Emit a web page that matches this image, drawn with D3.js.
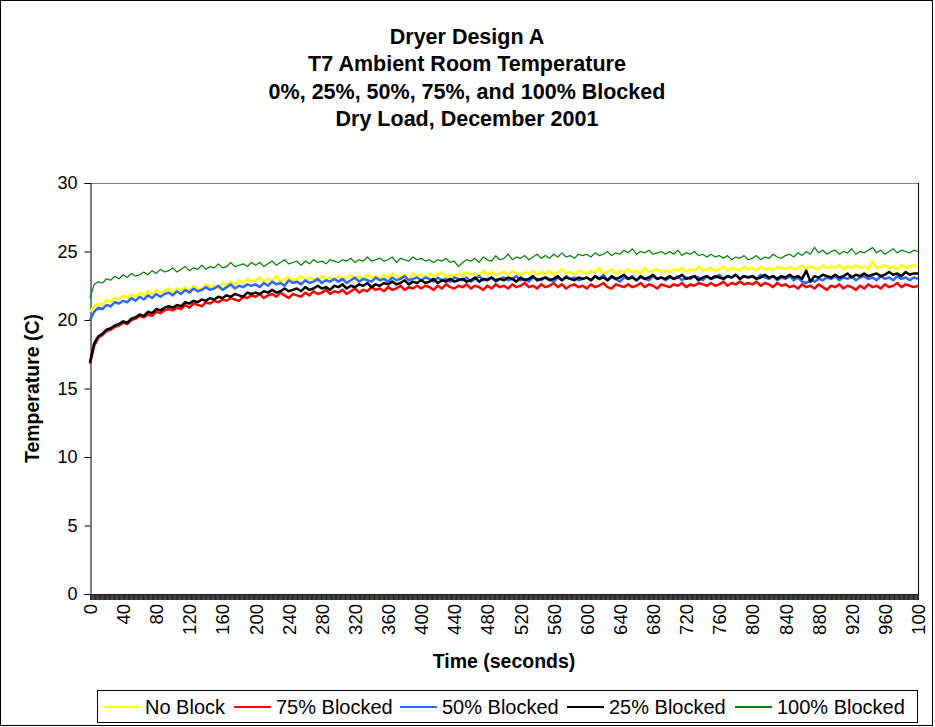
<html>
<head>
<script src="https://cdnjs.cloudflare.com/ajax/libs/d3/7.8.5/d3.min.js"></script>
<style>
  body { margin: 0; background: #fff; }
  text { font-family: "Liberation Sans", Arial, sans-serif; fill: #000; }
</style>
</head>
<body>
<svg id="chart"></svg>
<script>

    var width = 935,
        height = 727;

    // sample times (seconds), one reading every 5 s
    var times = d3.range(0, 1001, 5);

    var titleLines = ["Dryer Design A", "T7 Ambient Room Temperature",
        "0%, 25%, 50%, 75%, and 100% Blocked", "Dry Load, December 2001"];

    var yTicks = [0, 5, 10, 15, 20, 25, 30];
    var xLabelTimes = d3.range(0, 1001, 40);
    var xTickLabels = ["0","40","80","120","160","200","240","280","320","360","400","440","480",
        "520","560","600","640","680","720","760","800","840","880","920","960","100"];

    var seriesNames = ["No Block", "75% Blocked", "50% Blocked", "25% Blocked", "100% Blocked"];
    var seriesColors = ["#ffff00", "#ff0000", "#3366ff", "#000000", "#008000"];
    var seriesWidths = [2.5, 2.5, 2.5, 2.5, 1.2];

    var noBlock = [
        20.6,21.0,21.2,21.1,21.5,21.3,21.6,21.5,21.8,21.6, 21.9,21.7,22.0,21.8,22.1,21.9,22.2,22.0,22.1,22.3,
        22.0,22.3,22.2,22.4,22.1,22.5,22.3,22.2,22.6,22.4, 22.5,22.3,22.7,22.5,22.8,22.6,22.9,22.7,23.0,22.8,
        22.9,23.1,22.8,23.0,22.9,23.2,22.8,23.0,23.1,22.9, 23.0,23.2,22.9,23.1,23.0,22.8,23.2,23.0,23.1,22.9,
        23.2,23.0,23.1,23.3,22.9,23.2,23.0,23.3,23.1,23.2, 23.0,23.3,23.1,23.4,23.2,23.1,23.3,23.0,23.4,23.2,
        23.3,23.1,23.4,23.2,23.3,23.5,23.1,23.3,23.2,23.4, 23.2,23.5,23.3,23.4,23.2,23.6,23.3,23.5,23.3,23.4,
        23.5,23.3,23.6,23.4,23.3,23.5,23.4,23.6,23.3,23.5, 23.4,23.6,23.3,23.5,23.7,23.4,23.5,23.3,23.6,23.5,
        23.4,23.6,23.5,23.8,23.4,23.5,23.7,23.4,23.6,23.5, 23.7,23.5,23.6,23.4,23.8,23.5,23.6,23.7,23.5,23.6,
        23.5,23.7,23.6,23.8,23.5,23.7,23.6,23.9,23.6,23.7, 23.8,23.6,23.7,23.9,23.6,23.8,23.7,23.6,23.9,23.7,
        23.8,23.6,23.9,23.7,23.8,23.6,23.9,23.8,23.7,23.9, 23.7,23.8,24.0,23.7,23.9,23.8,23.7,24.0,23.8,23.9,
        23.8,24.0,23.7,23.9,23.8,24.0,23.8,23.9,23.7,24.3, 23.8,23.9,24.0,23.8,23.9,23.7,24.0,23.8,23.9,24.0,
        23.9];

    var blocked75 = [
        16.8,18.1,18.7,18.9,19.2,19.3,19.5,19.6,19.8,19.7, 20.0,20.1,20.3,20.2,20.4,20.3,20.6,20.5,20.7,20.8,
        20.7,20.9,20.8,21.1,20.9,21.2,21.1,21.0,21.3,21.2, 21.4,21.3,21.5,21.4,21.6,21.5,21.4,21.7,21.6,21.8,
        21.7,21.9,21.6,21.8,21.9,21.7,22.0,21.8,21.6,21.9, 21.8,21.7,22.0,21.8,22.1,21.9,22.0,22.2,21.9,22.1,
        22.0,22.2,21.9,22.1,22.3,22.0,22.2,22.1,22.4,22.2, 22.3,22.1,22.4,22.2,22.3,22.5,22.2,22.4,22.3,22.5,
        22.3,22.5,22.4,22.2,22.5,22.3,22.6,22.4,22.3,22.5, 22.4,22.6,22.3,22.5,22.4,22.2,22.5,22.3,22.6,22.4,
        22.5,22.3,22.6,22.4,22.5,22.7,22.4,22.5,22.3,22.6, 22.4,22.5,22.7,22.4,22.6,22.3,22.5,22.6,22.4,22.5,
        22.3,22.6,22.4,22.5,22.7,22.4,22.3,22.6,22.5,22.4, 22.6,22.4,22.5,22.7,22.4,22.6,22.5,22.3,22.6,22.5,
        22.4,22.6,22.5,22.7,22.4,22.6,22.5,22.7,22.6,22.5, 22.7,22.5,22.6,22.8,22.5,22.7,22.6,22.8,22.6,22.7,
        22.6,22.8,22.5,22.7,22.6,22.4,22.7,22.5,22.6,22.4, 22.5,22.3,22.6,22.4,22.5,22.3,22.6,22.4,22.2,22.5,
        22.4,22.6,22.3,22.5,22.4,22.2,22.5,22.3,22.6,22.4, 22.5,22.3,22.6,22.4,22.5,22.7,22.4,22.6,22.5,22.4,
        22.5];

    var blocked50 = [
        20.0,20.6,20.9,20.8,21.1,21.0,21.3,21.2,21.4,21.3, 21.6,21.4,21.7,21.5,21.8,21.6,21.9,21.7,21.9,22.0,
        21.8,22.1,21.9,22.2,22.0,22.3,22.1,22.2,22.4,22.2, 22.3,22.5,22.2,22.4,22.6,22.3,22.5,22.4,22.6,22.5,
        22.6,22.4,22.7,22.5,22.8,22.6,22.7,22.5,22.9,22.7, 22.8,22.6,22.9,22.7,22.8,23.0,22.7,22.9,22.8,23.0,
        22.8,23.0,22.7,22.9,23.1,22.8,23.0,22.9,22.8,23.1, 22.9,23.0,22.8,23.1,22.9,23.0,23.2,22.9,23.0,23.1,
        22.9,23.1,23.0,22.8,23.1,22.9,23.0,22.8,23.1,23.0, 22.9,23.1,22.8,23.0,23.2,22.9,23.0,23.1,22.8,23.0,
        23.1,22.9,23.0,23.2,22.9,23.0,22.8,23.1,23.0,22.9, 23.1,23.0,22.8,23.1,22.9,23.2,23.0,23.1,22.9,23.0,
        23.1,22.9,23.2,23.0,23.3,22.9,23.1,23.0,22.8,23.1, 23.0,23.2,22.9,23.1,23.0,22.9,23.2,23.0,23.1,22.9,
        23.1,23.0,23.2,22.9,23.1,23.0,23.2,23.1,22.9,23.2, 23.0,23.1,23.3,23.0,23.2,23.1,23.3,23.0,23.2,23.1,
        23.2,23.0,23.3,23.1,23.0,23.2,22.9,23.1,23.0,23.2, 22.9,23.1,22.8,22.7,22.9,22.8,23.0,22.9,23.1,23.0,
        23.2,22.9,23.1,23.0,23.2,22.9,23.1,23.2,23.0,23.1, 22.9,23.2,23.0,23.1,22.9,23.2,23.0,23.1,22.9,23.1,
        23.0];

    var blocked25 = [
        16.9,18.3,18.8,19.0,19.3,19.4,19.6,19.7,19.9,19.8, 20.1,20.2,20.4,20.3,20.6,20.5,20.8,20.7,20.9,21.0,
        20.9,21.1,21.0,21.3,21.2,21.4,21.3,21.5,21.4,21.6, 21.5,21.7,21.6,21.8,21.7,21.9,21.8,21.7,22.0,21.9,
        22.0,21.9,22.1,22.0,22.2,22.0,22.1,22.3,22.1,22.2, 22.3,22.1,22.4,22.2,22.3,22.5,22.3,22.4,22.2,22.5,
        22.4,22.6,22.3,22.5,22.4,22.6,22.5,22.7,22.4,22.6, 22.5,22.7,22.6,22.8,22.6,22.7,22.9,22.6,22.8,22.7,
        22.9,22.7,22.8,23.0,22.7,22.9,22.8,23.0,22.8,22.9, 23.0,22.8,22.9,23.1,22.8,23.0,22.9,23.1,22.9,23.0,
        22.9,23.1,23.0,22.8,23.1,22.9,23.0,23.2,22.9,23.0, 23.1,22.9,23.0,23.2,22.9,23.1,23.0,22.9,23.1,23.0,
        23.1,22.9,23.2,23.0,23.1,22.9,23.2,23.0,23.1,23.3, 23.0,23.1,22.9,23.2,23.0,23.1,23.3,23.0,23.1,23.0,
        23.2,23.0,23.1,23.3,23.0,23.1,23.2,22.9,23.1,23.2, 23.0,23.2,23.1,23.0,23.2,23.1,23.3,23.0,23.2,23.1,
        23.2,23.0,23.1,23.3,23.1,23.2,23.0,23.2,23.1,23.3, 23.1,23.2,23.0,23.6,22.8,23.2,23.1,23.3,23.2,23.1,
        23.3,23.1,23.2,23.4,23.1,23.3,23.2,23.4,23.2,23.3, 23.4,23.2,23.3,23.5,23.3,23.4,23.2,23.5,23.3,23.4,
        23.4];

    var blocked100 = [
        21.6,22.6,22.8,22.7,23.0,22.9,23.2,23.0,23.3,23.1, 23.4,23.2,23.3,23.5,23.3,23.6,23.4,23.7,23.5,23.6,
        23.8,23.5,23.7,23.9,23.6,23.8,23.7,24.0,23.7,23.9, 23.8,24.1,23.8,23.9,24.2,23.9,24.0,24.1,23.9,24.2,
        24.0,24.2,23.9,24.1,24.3,24.0,24.2,24.4,24.1,24.2, 24.3,24.0,24.3,24.1,24.4,24.2,24.3,24.1,24.4,24.3,
        24.2,24.4,24.3,24.5,24.2,24.4,24.3,24.6,24.3,24.4, 24.5,24.3,24.4,24.6,24.2,24.5,24.4,24.3,24.6,24.4,
        24.5,24.3,24.4,24.2,24.4,24.3,24.5,24.2,24.3,23.9, 24.2,24.4,24.3,24.5,24.2,24.6,24.4,24.3,24.7,24.4,
        24.5,24.8,24.4,24.6,24.5,24.7,24.4,24.6,24.8,24.5, 24.7,24.5,24.8,24.6,24.9,24.6,24.7,24.5,24.8,24.7,
        24.8,24.6,24.9,24.7,24.8,25.0,24.7,24.9,24.8,25.1, 24.9,25.2,24.8,25.0,24.9,25.1,24.8,24.9,25.0,24.8,
        25.0,24.8,25.1,24.7,24.9,24.8,25.0,24.7,24.8,24.6, 24.8,24.6,24.7,24.5,24.7,24.4,24.6,24.5,24.7,24.4,
        24.5,24.7,24.4,24.6,24.5,24.8,24.6,24.5,24.7,24.8, 24.6,24.9,24.7,25.0,24.8,25.3,24.9,25.1,24.8,25.0,
        25.1,24.8,25.0,24.9,25.2,24.8,25.0,24.9,25.1,25.3, 24.9,25.1,24.8,25.0,25.2,24.9,25.1,25.0,24.9,25.1,
        25.0];

    var seriesValues = [noBlock, blocked75, blocked50, blocked25, blocked100];

    var plot = {left: 90, right: 918, top: 183, bottom: 594};

    var x = d3.scaleLinear()
        .domain([0, 1000])
        .range([plot.left, plot.right]);

    var y = d3.scaleLinear()
        .domain([0, 30])
        .range([plot.bottom, plot.top]);

    var svg = d3.select("#chart")
        .attr("width", width)
        .attr("height", height);

    // chart area border
    svg.append("rect")
        .attr("x", 0.5).attr("y", 0.5)
        .attr("width", 932).attr("height", 725)
        .attr("fill", "#fff")
        .attr("stroke", "#000");

    // title
    svg.append("g")
        .selectAll("text")
        .data(titleLines)
        .enter().append("text")
        .attr("x", 467)
        .attr("y", function(d, i) { return 44 + i * 27.3; })
        .attr("text-anchor", "middle")
        .style("font-size", "21.5px")
        .style("font-weight", "bold")
        .text(function(d) { return d; });

    // plot area frame (top gray, right dark)
    svg.append("line")
        .attr("x1", plot.left).attr("x2", plot.right)
        .attr("y1", plot.top + 0.5).attr("y2", plot.top + 0.5)
        .attr("stroke", "#808080");
    svg.append("line")
        .attr("x1", plot.right + 0.5).attr("x2", plot.right + 0.5)
        .attr("y1", plot.top).attr("y2", plot.bottom)
        .attr("stroke", "#000");

    // y axis
    var yAxis = svg.append("g")
        .attr("transform", "translate(" + (plot.left + 0.5) + ",0)")
        .call(d3.axisLeft(y).tickValues(yTicks).tickSize(6).tickPadding(7));
    yAxis.select(".domain").attr("stroke", "#000");
    yAxis.selectAll("text")
        .style("font-size", "18px")
        .style("font-family", "Liberation Sans, Arial, sans-serif");

    // dense x ticks, one per second
    var xMinor = svg.append("g")
        .attr("transform", "translate(0," + plot.bottom + ")")
        .call(d3.axisBottom(x).tickValues(d3.range(0, 1001, 1)).tickSize(6).tickFormat(""));
    xMinor.selectAll(".tick line").attr("stroke", "#222");
    xMinor.select(".domain").attr("stroke", "#000");

    // x labels
    var xLab = svg.append("g")
        .attr("transform", "translate(0," + plot.bottom + ")")
        .call(d3.axisBottom(x).tickValues(xLabelTimes).tickSize(0)
            .tickFormat(function(d, i) { return xTickLabels[i]; }));
    xLab.select(".domain").remove();
    xLab.selectAll("text")
        .attr("transform", "rotate(-90)")
        .attr("text-anchor", "end")
        .attr("x", -10)
        .attr("y", 0)
        .attr("dy", "0.35em")
        .style("font-size", "18.5px")
        .style("font-family", "Liberation Sans, Arial, sans-serif");

    // axis titles
    svg.append("text")
        .attr("transform", "translate(39," + ((plot.top + plot.bottom) / 2) + ") rotate(-90)")
        .attr("text-anchor", "middle")
        .style("font-size", "19.5px")
        .style("font-weight", "bold")
        .text("Temperature (C)");

    svg.append("text")
        .attr("x", (plot.left + plot.right) / 2)
        .attr("y", 668)
        .attr("text-anchor", "middle")
        .style("font-size", "19.5px")
        .style("font-weight", "bold")
        .text("Time (seconds)");

    // series
    var line = d3.line()
        .x(function(d, i) { return x(times[i]); })
        .y(function(d) { return y(d); });

    svg.append("g")
        .selectAll("path")
        .data(seriesValues)
        .enter().append("path")
        .attr("fill", "none")
        .attr("stroke", function(d, i) { return seriesColors[i]; })
        .attr("stroke-width", function(d, i) { return seriesWidths[i]; })
        .attr("stroke-linejoin", "round")
        .attr("d", line);

    // legend
    var legendX = [103, 234, 400, 567, 735];
    var legend = svg.append("g");
    legend.append("rect")
        .attr("x", 97.5).attr("y", 690.5)
        .attr("width", 820).attr("height", 32)
        .attr("fill", "#fff")
        .attr("stroke", "#000");
    var item = legend.selectAll(".item")
        .data(seriesNames)
        .enter().append("g")
        .attr("transform", function(d, i) { return "translate(" + legendX[i] + ",707)"; });
    item.append("line")
        .attr("x1", 0).attr("x2", 37)
        .attr("stroke", function(d, i) { return seriesColors[i]; })
        .attr("stroke-width", 2);
    item.append("text")
        .attr("x", 42)
        .attr("dy", "0.35em")
        .style("font-size", "20px")
        .text(function(d) { return d; });

</script>
</body>
</html>
